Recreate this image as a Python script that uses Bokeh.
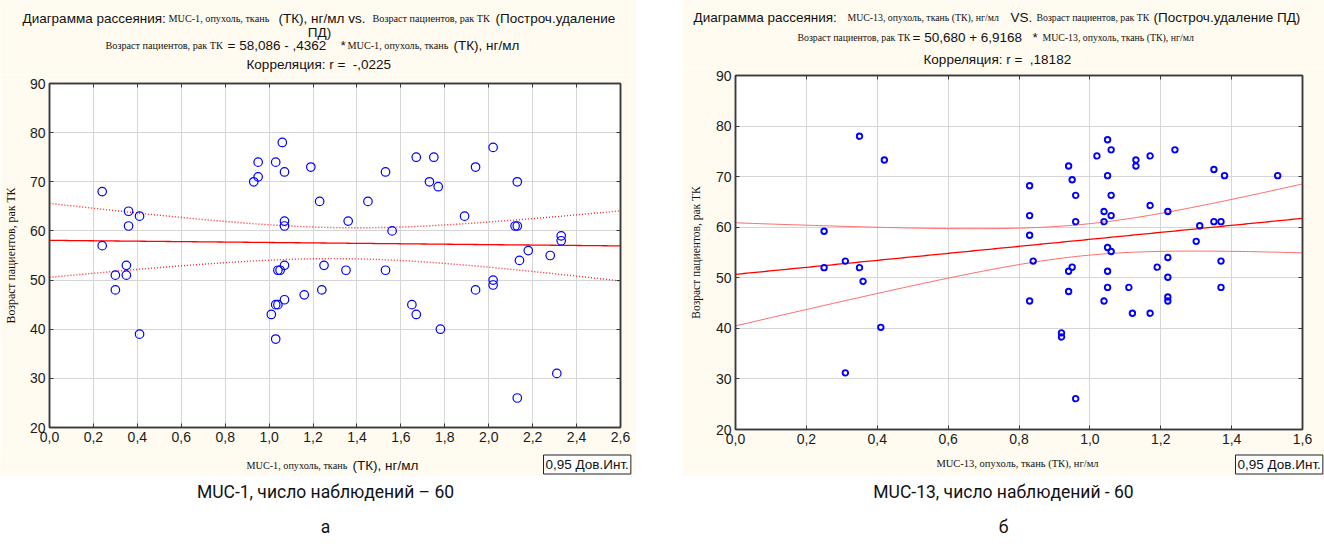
import numpy as np
from bokeh.plotting import figure
from bokeh.models import (Range1d, FixedTicker, LinearAxis, CustomJSTickFormatter,
                          Label, Spacer, Grid)
from bokeh.layouts import row, column
from bokeh.embed import file_html
from bokeh.resources import INLINE

# ---------------- data ----------------
muc1_x = [0.24, 0.24, 0.30, 0.30, 0.35, 0.35, 0.36, 0.36, 0.41, 0.41,
          0.93, 0.95, 0.95, 1.03, 1.06, 1.07, 1.07, 1.07, 1.07, 1.04,
          1.05, 1.03, 1.04, 1.07, 1.01, 1.03, 1.16, 1.19, 1.23, 1.25,
          1.24, 1.36, 1.35, 1.45, 1.53, 1.53, 1.56, 1.65, 1.67, 1.67,
          1.73, 1.75, 1.77, 1.78, 1.89, 1.94, 1.94, 2.02, 2.02, 2.02,
          2.13, 2.12, 2.13, 2.14, 2.13, 2.18, 2.28, 2.31, 2.33, 2.33]
muc1_age = [68, 57, 51, 48, 53, 51, 64, 61, 63, 39,
            70, 74, 71, 74, 78, 72, 62, 61, 53, 52,
            52, 45, 45, 46, 43, 38, 47, 73, 66, 53,
            48, 62, 52, 66, 72, 52, 60, 45, 75, 43,
            70, 75, 69, 40, 63, 73, 48, 77, 50, 49,
            70, 61, 61, 54, 26, 56, 55, 31, 59, 58]

muc13_x = [0.35, 0.42, 0.25, 0.25, 0.31, 0.35, 0.36, 0.41, 0.31,
           0.83, 0.83, 0.83, 0.84, 0.83, 0.92, 0.92, 0.94, 0.95, 0.96,
           0.96, 0.95, 0.94, 0.94, 0.96, 1.02, 1.05, 1.06, 1.05, 1.06,
           1.04, 1.06, 1.04, 1.05, 1.06, 1.05, 1.05, 1.04, 1.11, 1.12,
           1.13, 1.13, 1.17, 1.17, 1.17, 1.19, 1.22, 1.22, 1.22, 1.22,
           1.22, 1.24, 1.30, 1.31, 1.35, 1.35, 1.37, 1.38, 1.37, 1.37, 1.53]
muc13_age = [78.0, 73.3, 59.2, 52.0, 53.3, 52.0, 49.3, 40.2, 31.2,
             62.3, 58.4, 68.2, 53.3, 45.4, 39.1, 38.3, 72.1, 69.4, 66.3,
             61.1, 52.1, 51.3, 47.3, 26.1, 74.1, 77.3, 75.3, 70.2, 66.3,
             63.1, 62.3, 61.1, 56.0, 55.2, 51.3, 48.1, 45.4, 48.1, 43.0,
             73.3, 72.1, 74.1, 64.3, 43.0, 52.1, 63.1, 54.0, 50.1, 46.2,
             45.4, 75.3, 57.2, 60.3, 71.4, 61.1, 61.1, 70.2, 53.3, 48.1, 70.2]

# regression coefficients printed on the charts
muc1_coef = [58.086, -0.4362]
muc13_coef = [50.680, 6.9168]

x_ticks_1 = [0.0, 0.2, 0.4, 0.6, 0.8, 1.0, 1.2, 1.4, 1.6, 1.8, 2.0, 2.2, 2.4, 2.6]
x_ticks_2 = [0.0, 0.2, 0.4, 0.6, 0.8, 1.0, 1.2, 1.4, 1.6]
y_ticks = [20, 30, 40, 50, 60, 70, 80, 90]

SANS = "Liberation Sans"
SERIF = "Liberation Serif"
CREAM = "#fffbf0"
AX = "#3a3a3a"
TXT = "#111111"


def make_panel(xr, yr, xt, yt, width, height, fl, ft, fw, fh, ylabel, ylsize, ylstand):
    p = figure(width=width, height=height, x_range=Range1d(*xr), y_range=Range1d(*yr),
               output_backend="svg", toolbar_location=None,
               x_axis_type=None, y_axis_type=None, frame_align=False,
               min_border_left=fl, min_border_top=ft,
               min_border_right=width - fl - fw, min_border_bottom=height - ft - fh)
    p.border_fill_color = CREAM
    p.background_fill_color = "white"
    p.outline_line_color = AX
    p.outline_line_width = 1.5
    fmt = CustomJSTickFormatter(code="return tick.toFixed(1).replace('.', ',');")
    blank = CustomJSTickFormatter(code="return '';")
    xb = LinearAxis(ticker=FixedTicker(ticks=xt), formatter=fmt)
    yl = LinearAxis(ticker=FixedTicker(ticks=yt), axis_label=ylabel)
    xa = LinearAxis(ticker=FixedTicker(ticks=xt), formatter=blank)
    yrr = LinearAxis(ticker=FixedTicker(ticks=yt), formatter=blank)
    for ax in (xb, yl, xa, yrr):
        ax.major_tick_in = 4
        ax.major_tick_out = 0
        ax.minor_tick_line_color = None
        ax.axis_line_color = AX
        ax.axis_line_width = 1.5
        ax.major_tick_line_color = AX
        ax.major_label_text_font = SANS
        ax.major_label_text_font_size = "14px"
        ax.major_label_text_color = "#1a1a1a"
        ax.major_label_standoff = 4
    for ax in (xa, yrr):
        ax.major_label_standoff = 0
        ax.major_label_text_font_size = "0px"
    yl.axis_label_text_font = SERIF
    yl.axis_label_text_font_style = "normal"
    yl.axis_label_text_font_size = f"{ylsize}px"
    yl.axis_label_text_color = TXT
    yl.axis_label_standoff = ylstand
    p.add_layout(xb, "below")
    p.add_layout(yl, "left")
    p.add_layout(xa, "above")
    p.add_layout(yrr, "right")
    p.add_layout(Grid(dimension=0, ticker=FixedTicker(ticks=xt), grid_line_color="#d6d6d6"))
    p.add_layout(Grid(dimension=1, ticker=FixedTicker(ticks=yt), grid_line_color="#d6d6d6"))
    return p


def strip(x0, x1, y0, y1, fill):
    s = figure(width=x1 - x0, height=y1 - y0, x_range=Range1d(x0, x1), y_range=Range1d(y1, y0),
               output_backend="svg", toolbar_location=None, x_axis_type=None, y_axis_type=None,
               min_border=0, frame_align=False)
    s.outline_line_color = None
    s.border_fill_color = fill
    s.background_fill_color = fill
    return s


def put(p, px, py, text, font, size, align="left", **kw):
    p.add_layout(Label(x=px, y=py, text=text, text_font=font, text_font_size=f"{size}px",
                       text_align=align, text_baseline="middle", text_color=TXT, **kw))


def band(xv, yv, coef, xs):
    xv = np.asarray(xv, float)
    yv = np.asarray(yv, float)
    n = len(xv)
    yhat = coef[0] + coef[1] * xs
    res = yv - (coef[0] + coef[1] * xv)
    s = np.sqrt(np.sum(res ** 2) / (n - 2))
    xbar = xv.mean()
    sxx = np.sum((xv - xbar) ** 2)
    t = 2.0017
    se = s * np.sqrt(1.0 / n + (xs - xbar) ** 2 / sxx)
    return yhat, yhat - t * se, yhat + t * se


SER1 = 10.2   # small serif pieces, panel a
SER2 = 9.8    # small serif pieces, panel b

# ================= panel a (x 0..636) =================
t1 = strip(0, 636, 0, 74, CREAM)
for txt, fnt, sz, px in [("Диаграмма рассеяния:", SANS, 13.5, 22),
                         ("MUC-1, опухоль, ткань", SERIF, SER1, 168),
                         ("(ТК), нг/мл vs.", SANS, 13.5, 278),
                         ("Возраст пациентов, рак ТК", SERIF, SER1, 372),
                         ("(Построч.удаление", SANS, 13.5, 495)]:
    put(t1, px, 17.5, txt, fnt, sz)
put(t1, 319, 31.5, "ПД)", SANS, 13.5, align="center")
for txt, fnt, sz, px in [("Возраст пациентов, рак ТК", SERIF, SER1, 105),
                         ("= 58,086 - ,4362", SANS, 13.5, 227),
                         ("*", SANS, 13.5, 340),
                         ("MUC-1, опухоль, ткань", SERIF, SER1, 347),
                         ("(ТК), нг/мл", SANS, 13.5, 453)]:
    put(t1, px, 45, txt, fnt, sz)
put(t1, 246, 64, "Корреляция: r = \u00a0-,0225", SANS, 13.5)

# main plot: y 74..452 ; frame x 49..620, y 83..427
p1 = make_panel((0, 2.6), (20, 90), x_ticks_1, y_ticks, 636, 378, 49, 9, 571, 344,
                "Возраст пациентов, рак ТК", 11.8, 9)
xs1 = np.linspace(0, 2.6, 200)
yh1, lo1, hi1 = band(muc1_x, muc1_age, muc1_coef, xs1)
p1.line(xs1, lo1, line_color="#ff2020", line_dash="1 2", line_width=1.4)
p1.line(xs1, hi1, line_color="#ff2020", line_dash="1 2", line_width=1.4)
p1.line(xs1, yh1, line_color="#ff0000", line_width=1.3)
p1.scatter(muc1_x, muc1_age, marker="circle", size=8.5, fill_color=None,
           line_color="#0000ff", line_width=1.2)

b1 = strip(0, 636, 452, 476, CREAM)
put(b1, 246, 465, "MUC-1, опухоль, ткань", SERIF, SER1)
put(b1, 352, 465, "(ТК), нг/мл", SANS, 13.5)
put(b1, 543, 464, "0,95 Дов.Инт.", SANS, 13.5, background_fill_color="white",
    border_line_color="#222222", padding=2)

c1 = strip(0, 636, 476, 544, "white")
put(c1, 325, 491, "MUC-1, число наблюдений – 60", "Roboto", 17.5, align="center")
put(c1, 325, 526, "а", "Roboto", 17.5, align="center")

# ================= panel b (x 682..1324) =================
t2 = strip(682, 1324, 0, 67, CREAM)
for txt, fnt, sz, px in [("Диаграмма рассеяния:", SANS, 13.5, 693),
                         ("MUC-13, опухоль, ткань (ТК), нг/мл", SERIF, SER2, 847),
                         ("VS.", SANS, 13.5, 1010),
                         ("Возраст пациентов, рак ТК", SERIF, SER2, 1036),
                         ("(Построч.удаление ПД)", SANS, 13.5, 1153)]:
    put(t2, px, 17, txt, fnt, sz)
for txt, fnt, sz, px in [("Возраст пациентов, рак ТК", SERIF, SER2, 797),
                         ("= 50,680 + 6,9168", SANS, 13.5, 912),
                         ("*", SANS, 13.5, 1032),
                         ("MUC-13, опухоль, ткань (ТК), нг/мл", SERIF, SER2, 1042)]:
    put(t2, px, 37, txt, fnt, sz)
put(t2, 923, 59, "Корреляция: r = \u00a0,18182", SANS, 13.5)

# main plot: y 67..452 ; frame x 735..1302, y 75..429
p2 = make_panel((0, 1.6), (20, 90), x_ticks_2, y_ticks, 642, 385, 53, 8, 567, 354,
                "Возраст пациентов, рак ТК", 11.5, 11)
xs2 = np.linspace(0, 1.6, 200)
yh2, lo2, hi2 = band(muc13_x, muc13_age, muc13_coef, xs2)
p2.line(xs2, lo2, line_color="#ff6a6a", line_width=1)
p2.line(xs2, hi2, line_color="#ff6a6a", line_width=1)
p2.line(xs2, yh2, line_color="#ff0000", line_width=1.3)
p2.scatter(muc13_x, muc13_age, marker="circle", size=5.5, fill_color=None,
           line_color="#0000ff", line_width=1.9)

b2 = strip(682, 1324, 452, 476, CREAM)
put(b2, 1017, 463, "MUC-13, опухоль, ткань (ТК), нг/мл", SERIF, 10.5, align="center")
put(b2, 1235, 464, "0,95 Дов.Инт.", SANS, 13.5, background_fill_color="white",
    border_line_color="#222222", padding=2)

c2 = strip(682, 1324, 476, 544, "white")
put(c2, 1003, 491, "MUC-13, число наблюдений - 60", "Roboto", 17.5, align="center")
put(c2, 1003, 526, "б", "Roboto", 17.5, align="center")

layout = row(column(t1, p1, b1, c1), Spacer(width=46, height=544), column(t2, p2, b2, c2))
open("out.html", "w").write(file_html(layout, INLINE, title="MUC scatter"))
